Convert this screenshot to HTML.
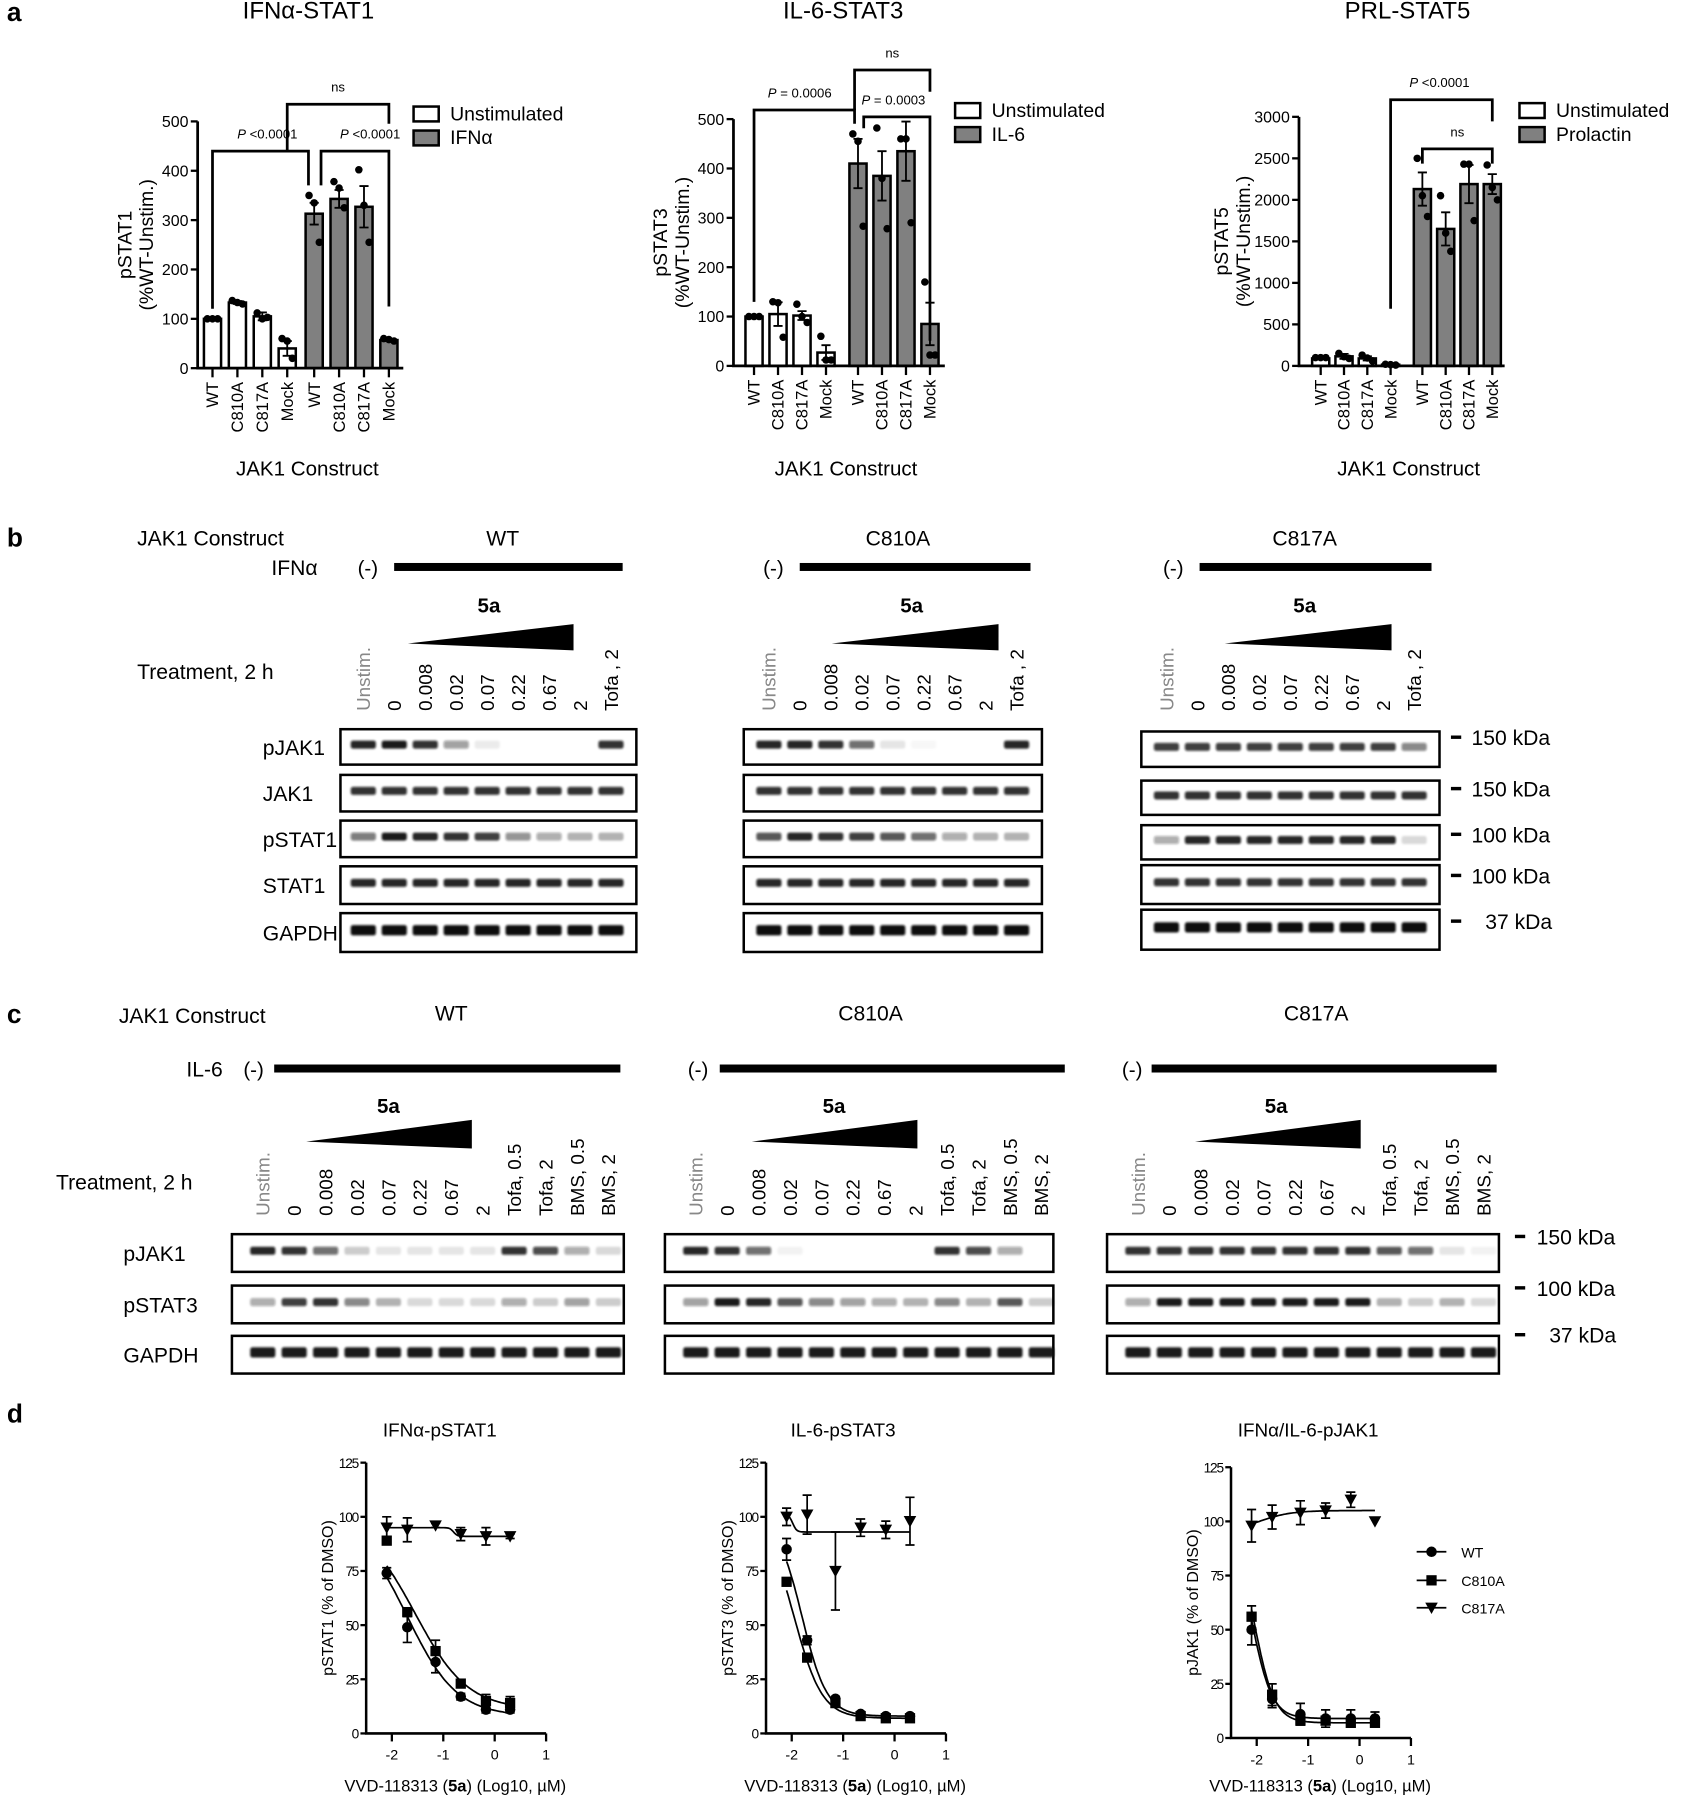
<!DOCTYPE html>
<html><head><meta charset="utf-8"><style>
html,body{margin:0;padding:0;background:#fff;}
svg{display:block;font-family:"Liberation Sans",Arial,sans-serif;}
</style></head><body>
<svg id="fig" width="1684" height="1800" viewBox="0 0 1474 1575" xmlns="http://www.w3.org/2000/svg">
<defs><filter id="bl" x="-20%" y="-50%" width="140%" height="200%"><feGaussianBlur stdDeviation="0.9"/></filter></defs>
</svg>
<script>
// ---------- Panel a data ----------
const barCats = ['WT','C810A','C817A','Mock','WT','C810A','C817A','Mock'];
const stat1Means = [100,133,105,40,313,343,327,57];
const stat1Errs = [1,3,8,15,22,18,42,2];
const stat1Reps = [[100,100,100],[137,133,130],[112,100,103],[60,55,20],[350,335,255],[378,365,325],[402,330,255],[60,58,55]];
const stat1Ticks = [0,100,200,300,400,500];
const stat3Means = [100,105,102,27,410,385,435,85];
const stat3Errs = [1,24,9,15,50,50,60,43];
const stat3Reps = [[100,100,100],[130,128,58],[125,100,88],[60,12,12],[470,455,283],[482,380,278],[460,460,290],[170,22,22]];
const stat3Ticks = [0,100,200,300,400,500];
const stat5Means = [90,115,90,15,2130,1650,2190,2190];
const stat5Errs = [5,30,25,5,200,200,230,120];
const stat5Reps = [[100,100,100],[150,110,90],[130,95,60],[20,15,10],[2500,2050,1800],[2050,1600,1380],[2430,2430,1750],[2420,2150,2000]];
const stat5Ticks = [0,500,1000,1500,2000,2500,3000];

// ---------- Panel d data ----------
const doseLog = [-2.1,-1.7,-1.15,-0.66,-0.17,0.3];
const doseTicks = [-2,-1,0,1];
const respTicks = [0,25,50,75,100,125];
const d1WT = [74,49,33,17,11,11];
const d1WTerr = [2.5,7,5,1.5,1.5,1.5];
const d1C810 = [89,56,38,23,15,14];
const d1C810err = [1.5,2,5,1.5,3,3];
const d1C817 = [95,94,96,92,91,91];
const d1C817err = [5,5.5,1,3,4,1];
const d2WT = [85,43,16,9,8,8];
const d2WTerr = [5,2,1,1,1,1];
const d2C810 = [70,35,14,8,7,7];
const d2C810err = [1,1,1,1,1,1];
const d2C817 = [100,101,75,95,94,98];
const d2C817err = [4,9,18,4,4,11];
const d3WT = [50,18,11,9,9,9];
const d3WTerr = [7,4,5,4,4,3];
const d3C810 = [56,20,8,8,7,7];
const d3C810err = [5,5,1,1,1,1];
const d3C817 = [98,102,104,105,110,100];
const d3C817err = [7.5,5.5,5.5,3.5,3.5,0];
// fitted curve params [top, bottom, logIC50, hill]
const fit1 = [[100,8,-1.7,0.9],[100,11,-1.55,0.85],[95,91,-0.8,12]];
const fit2 = [[100,8,-1.8,1.8],[100,7,-1.95,1.6],[101,93,-1.98,12]];
const fit3 = [[100,9,-2.1,2.2],[100,7,-2.05,2.2],[95,105,-1.95,1.4]];

// ---------- Blot intensities ----------
const bWT = {pJAK1:[.9,.95,.85,.4,.08,0,0,0,.85], JAK1:[.85,.85,.85,.85,.85,.85,.85,.85,.85], pSTAT1:[.55,.95,.9,.85,.8,.45,.35,.3,.3], STAT1:[.9,.9,.9,.9,.9,.9,.9,.9,.9], GAPDH:[1,1,1,1,1,1,1,1,1]};
const bC810 = {pJAK1:[.9,.9,.85,.6,.1,.03,0,0,.9], JAK1:[.85,.85,.85,.85,.85,.85,.85,.85,.85], pSTAT1:[.7,.9,.85,.8,.7,.6,.35,.3,.3], STAT1:[.9,.9,.9,.9,.9,.9,.9,.9,.9], GAPDH:[1,1,1,1,1,1,1,1,1]};
const bC817 = {pJAK1:[.8,.8,.8,.8,.8,.8,.8,.8,.5], JAK1:[.85,.85,.85,.85,.85,.85,.85,.85,.85], pSTAT1:[.35,.9,.9,.9,.9,.9,.9,.9,.15], STAT1:[.85,.85,.85,.85,.85,.85,.85,.85,.85], GAPDH:[1,1,1,1,1,1,1,1,1]};
const cWT = {pJAK1:[.9,.85,.6,.2,.1,.1,.1,.1,.85,.75,.35,.15], pSTAT3:[.35,.8,.85,.5,.3,.15,.15,.15,.35,.2,.4,.2], GAPDH:[.95,.95,.95,.95,.95,.95,.95,.95,.95,.95,.95,.95]};
const cC810 = {pJAK1:[.9,.85,.6,.05,0,0,0,0,.85,.75,.35,0], pSTAT3:[.4,.95,.9,.7,.5,.4,.35,.3,.5,.3,.7,.2], GAPDH:[.95,.95,.95,.95,.95,.95,.95,.95,.95,.95,.95,.95]};
const cC817 = {pJAK1:[.85,.85,.85,.85,.85,.85,.85,.85,.7,.6,.1,.05], pSTAT3:[.35,.95,.95,.95,.95,.95,.95,.95,.3,.2,.3,.15], GAPDH:[.95,.95,.95,.95,.95,.95,.95,.95,.95,.95,.95,.95]};
const bLanes = ['Unstim.','0','0.008','0.02','0.07','0.22','0.67','2','Tofa , 2'];
const cLanes = ['Unstim.','0','0.008','0.02','0.07','0.22','0.67','2','Tofa, 0.5','Tofa, 2','BMS, 0.5','BMS, 2'];

const svg = document.getElementById('fig');
const NS = 'http://www.w3.org/2000/svg';
function mk(tag, attrs, text){ const e=document.createElementNS(NS,tag); for(const k in attrs) e.setAttribute(k,attrs[k]); if(text!==undefined) e.textContent=text; svg.appendChild(e); return e; }
let el;

// panel letters
[['a',18],['b',478],['c',895],['d',1245]].forEach(p=>{
  el = mk('text',{x:6,y:p[1],'font-size':23,'font-weight':'bold'},p[0]);
  
  
});

// ---------- bar charts ----------
function barChart(id,g,title,means,errs,reps,ticks,ylab,legend2){
  const yv = v => g.y0 - (v/g.max)*(g.y0-g.yTop);
  const cx = i => g.x0 + i*g.step + (i>=4?g.gap:0);
  el = mk('text',{x:g.tx,y:16,'font-size':21,'text-anchor':'middle'},title);
  
  
  means.forEach((m,i)=>{
    el = mk('rect',{x:cx(i)-7.5,y:yv(m),width:15,height:g.y0-yv(m),fill:i<4?'#fff':'#808080',stroke:'#000','stroke-width':2.2});
    
    
    el = mk('path',{d:`M${cx(i)},${yv(m-errs[i])}V${yv(m+errs[i])}M${cx(i)-4},${yv(m+errs[i])}h8M${cx(i)-4},${yv(m-errs[i])}h8`,stroke:'#000','stroke-width':1.6,fill:'none'});
    
    
    reps[i].forEach((r,j)=>{
      el = mk('circle',{cx:cx(i)+(j-1)*4.5,cy:yv(r),r:3.3,fill:'#000'});
      
      
    });
  });
  el = mk('path',{d:`M${g.ax},${g.yTop}V${g.y0}H${g.xe}`,stroke:'#000','stroke-width':2.4,fill:'none'});
  
  
  ticks.forEach(t=>{
    el = mk('path',{d:`M${g.ax-6},${yv(t)}H${g.ax}`,stroke:'#000','stroke-width':2});
    
    
    el = mk('text',{x:g.ax-8,y:yv(t)+5,'font-size':14,'text-anchor':'end'},String(t));
    
    
  });
  barCats.forEach((c,i)=>{
    el = mk('path',{d:`M${cx(i)},${g.y0}v8`,stroke:'#000','stroke-width':2});
    
    
    el = mk('text',{x:0,y:0,'font-size':14.5,'text-anchor':'end',transform:`translate(${cx(i)+5},${g.y0+12}) rotate(-90)`},c);
    
    
  });
  el = mk('text',{x:(g.ax+g.xe)/2+6,y:416,'font-size':18,'text-anchor':'middle'},'JAK1 Construct');
  
  
  const ym=(g.yTop+g.y0)/2;
  el = mk('text',{x:0,y:0,'font-size':17,'text-anchor':'middle',transform:`translate(${g.ax-g.yl1},${ym}) rotate(-90)`},ylab);
  
  
  el = mk('text',{x:0,y:0,'font-size':17,'text-anchor':'middle',transform:`translate(${g.ax-g.yl1+19},${ym}) rotate(-90)`},'(%WT-Unstim.)');
  
  
  el = mk('rect',{x:g.lx,y:g.ly-6,width:22,height:13,fill:'#fff',stroke:'#000','stroke-width':2.2});
  
  
  el = mk('text',{x:g.lx+32,y:g.ly+6,'font-size':17},'Unstimulated');
  
  
  el = mk('rect',{x:g.lx,y:g.ly+15,width:22,height:13,fill:'#808080',stroke:'#000','stroke-width':2.2});
  
  
  el = mk('text',{x:g.lx+32,y:g.ly+27,'font-size':17},legend2);
  
  
  return {yv,cx};
}
function bracket(id,x1,y1,x2,y2,top,label,lx){
  el = mk('path',{d:`M${x1},${y1}V${top}H${x2}V${y2}`,stroke:'#000','stroke-width':2.4,fill:'none'});
  
  
  const t = mk('text',{x:lx!==undefined?lx:(x1+x2)/2,y:top-11,'font-size':11.5,'text-anchor':'middle'});
  
  
  if(label==='ns'){ t.textContent='ns'; }
  else { const a=document.createElementNS(NS,'tspan'); a.setAttribute('font-style','italic'); a.textContent='P'; t.appendChild(a); t.appendChild(document.createTextNode(label)); }
}
let A = barChart('stat1',{ax:173,xe:353,x0:186,step:21.8,gap:1.8,y0:322,yTop:106,max:500,tx:270,lx:362,ly:99,yl1:58},'IFNα-STAT1',stat1Means,stat1Errs,stat1Reps,stat1Ticks,'pSTAT1','IFNα');
bracket('stat1',A.cx(0),270,A.cx(4)-5,162,132,' <0.0001',234);
bracket('stat1',A.cx(4)+6,162,A.cx(7),268,132,' <0.0001',324);
bracket('stat1',A.cx(3),132,A.cx(7),108,91,'ns');
let B = barChart('stat3',{ax:642,xe:827,x0:660,step:21,gap:7,y0:320,yTop:104,max:500,tx:738,lx:836,ly:96,yl1:58},'IL-6-STAT3',stat3Means,stat3Errs,stat3Reps,stat3Ticks,'pSTAT3','IL-6');
bracket('stat3',B.cx(0),264,B.cx(4)-3,108,96,' = 0.0006',700);
bracket('stat3',B.cx(4)+5,112,B.cx(7),298,102,' = 0.0003',782);
bracket('stat3',B.cx(4)-3,96,B.cx(7),80,61,'ns');
let C = barChart('stat5',{ax:1137,xe:1317,x0:1156,step:20.4,gap:7.4,y0:320,yTop:102,max:3000,tx:1232,lx:1330,ly:96,yl1:62},'PRL-STAT5',stat5Means,stat5Errs,stat5Reps,stat5Ticks,'pSTAT5','Prolactin');
bracket('stat5',C.cx(3),270,C.cx(7),106,87,' <0.0001',1260);
bracket('stat5',C.cx(4),143,C.cx(7),143,130,'ns');

// ---------- blots ----------
function txt(name,x,y,s,size,attrs){ el = mk('text',Object.assign({x:x,y:y,'font-size':size},attrs||{}),s); return el; }
function blotPanel(id,data,rows,lanes,laneX0,laneStep,boxX1,boxX2,rowY){
  rows.forEach((r,ri)=>{
    const y1=rowY[ri][0], y2=rowY[ri][1];
    el = mk('rect',{x:boxX1,y:y1,width:boxX2-boxX1,height:y2-y1,fill:'#fff',stroke:'#000','stroke-width':2.2});
    
    
    data[r].forEach((v,li)=>{
      if(v<=0) return;
      const h = (r==='GAPDH')?9:7;
      el = mk('rect',{x:laneX0+li*laneStep-11,y:(y1+y2)/2-h/2-2,width:22,height:h,rx:2,fill:'#111','fill-opacity':v,filter:'url(#bl)'});
      
      
    });
  });
}
function lanesText(id,lanes,laneX0,laneStep,yb){
  lanes.forEach((l,i)=>{
    el = mk('text',{x:0,y:0,'font-size':16.5,'text-anchor':'start',fill:i===0?'#888':'#000',transform:`translate(${laneX0+i*laneStep+6},${yb}) rotate(-90)`},l);
    
    
  });
}
function wedge(id,x1,x2,yTop,yBot,labX,labY){
  el = mk('polygon',{points:`${x1},${yBot-6} ${x2},${yTop} ${x2},${yBot}`,fill:'#000'});
  
  
  el = mk('text',{x:labX,y:labY,'font-size':18,'font-weight':'bold','text-anchor':'middle'},'5a');
  
  
}
function stimBar(id,x1,x2,y,mx){
  el = mk('rect',{x:x1,y:y-3.5,width:x2-x1,height:7,fill:'#000'});
  
  
  el = mk('text',{x:mx,y:y+7,'font-size':18},'(-)');
  
  
}
el = txt('b',120,477,'JAK1 Construct',18.5);  
el = txt('b',278,503,'IFNα',18.5,{'text-anchor':'end'});  
el = txt('b',120,594,'Treatment, 2 h',18.5);  
const bRows=['pJAK1','JAK1','pSTAT1','STAT1','GAPDH'];
const bRowYWT=[[638,669],[678,710],[718,750],[758,791],[799,833]];
const bRowY817=[[640,671],[683,713],[722,752],[757,791],[796,831]];
bRows.forEach((r,i)=>{ el = txt('b',230,(bRowYWT[i][0]+bRowYWT[i][1])/2+7,r,18.5);   });
[['WT',440,345,545,313,357,502,428,318,298,557,bWT,bRowYWT],['C810A',786,700,902,668,728,874,798,673,651,912,bC810,bRowYWT],['C817A',1142,1050,1253,1018,1072,1218,1142,1021,999,1260,bC817,bRowY817]].forEach(p=>{
  const id='b-'+p[0];
  el = txt(id,p[1],477,p[0],18.5,{'text-anchor':'middle'});  
  stimBar(id,p[2],p[3],496,p[4]);
  wedge(id,p[5],p[6],546,569,p[7],536);
  lanesText(id,bLanes,p[8],27.1,622);
  blotPanel(id,p[11],bRows,bLanes,p[8],27.1,p[9],p[10],p[12]);
});
[['150 kDa',645],['150 kDa',690],['100 kDa',730],['100 kDa',766],['37 kDa',806]].forEach(k=>{
  el = mk('path',{d:`M1270,${k[1]}h9`,stroke:'#000','stroke-width':3});  
  el = txt('b',k[0].length<7?1300:1288,k[1]+7,k[0],18.5);  
});

el = txt('c',104,895,'JAK1 Construct',18.5);  
el = txt('c',195,942,'IL-6',18.5,{'text-anchor':'end'});  
el = txt('c',49,1041,'Treatment, 2 h',18.5);  
const cRows=['pJAK1','pSTAT3','GAPDH'];
const cRowY=[[1080,1113],[1125,1158],[1169,1202]];
cRows.forEach((r,i)=>{ el = txt('c',108,(cRowY[i][0]+cRowY[i][1])/2+7,r,18.5);   });
[['WT',395,240,543,213,268,413,340,230,203,546,cWT],['C810A',762,630,932,602,658,803,730,609,582,922,cC810],['C817A',1152,1008,1310,982,1046,1191,1117,996,969,1312,cC817]].forEach(p=>{
  const id='c-'+p[0];
  el = txt(id,p[1],893,p[0],18.5,{'text-anchor':'middle'});  
  stimBar(id,p[2],p[3],935,p[4]);
  wedge(id,p[5],p[6],980,1005,p[7],974);
  lanesText(id,cLanes,p[8],27.5,1064);
  blotPanel(id,p[11],cRows,cLanes,p[8],27.5,p[9],p[10],cRowY);
});
[['150 kDa',1082],['100 kDa',1127],['37 kDa',1168]].forEach(k=>{
  el = mk('path',{d:`M1326,${k[1]}h9`,stroke:'#000','stroke-width':3});  
  el = txt('c',k[0].length<7?1356:1345,k[1]+7,k[0],18.5);  
});

// ---------- panel d ----------
function marker(id,kind,x,y){
  if(kind===0) el = mk('circle',{cx:x,cy:y,r:4.6,fill:'#000'});
  else if(kind===1) el = mk('rect',{x:x-4.5,y:y-4.5,width:9,height:9,fill:'#000'});
  else el = mk('polygon',{points:`${x-5.5},${y-4.5} ${x+5.5},${y-4.5} ${x},${y+5.5}`,fill:'#000'});
  
  
}
function doseChart(id,g,title,ylab,series,errs,fits){
  const xp = v => g.x1 - (1-v)*g.ppu;
  const yp = v => g.y0 - v*(g.y0-g.yTop)/125;
  const ax = xp(-2.5);
  el = mk('text',{x:g.tx,y:1257,'font-size':16.5,'text-anchor':'middle'},title);
  
  
  el = mk('path',{d:`M${ax},${g.yTop}V${g.y0}H${xp(1)}`,stroke:'#000','stroke-width':2.2,fill:'none'});
  
  
  respTicks.forEach(t=>{
    el = mk('path',{d:`M${ax-5},${yp(t)}H${ax}`,stroke:'#000','stroke-width':2});  
    el = mk('text',{x:ax-6,y:yp(t)+4.5,'font-size':12,'text-anchor':'end','textLength':t>=100?18:(t>=10?12:6)},String(t));  
  });
  doseTicks.forEach(t=>{
    el = mk('path',{d:`M${xp(t)},${g.y0}v7`,stroke:'#000','stroke-width':2});  
    el = mk('text',{x:xp(t),y:g.y0+23,'font-size':12.5,'text-anchor':'middle'},String(t));  
  });
  el = mk('text',{x:0,y:0,'font-size':14,'text-anchor':'middle',transform:`translate(${ax-29},${(g.y0+g.yTop)/2}) rotate(-90)`},ylab);
   
  const xt = mk('text',{x:ax+78,y:1568,'font-size':14.5,'text-anchor':'middle'});
   
  xt.appendChild(document.createTextNode('VVD-118313 ('));
  const b=document.createElementNS(NS,'tspan'); b.setAttribute('font-weight','bold'); b.textContent='5a'; xt.appendChild(b);
  xt.appendChild(document.createTextNode(') (Log10, µM)'));
  series.forEach((s,k)=>{
    const f=fits[k]; let d='';
    for(let i=0;i<=80;i++){ const x=doseLog[0]+(doseLog[5]-doseLog[0])*i/80; const y=f[1]+(f[0]-f[1])/(1+Math.pow(10,(x-f[2])*f[3])); d+=(i?'L':'M')+xp(x).toFixed(1)+','+yp(y).toFixed(1); }
    el = mk('path',{d:d,stroke:'#000','stroke-width':1.5,fill:'none'});
    
    
    s.forEach((v,i)=>{
      const e=errs[k][i], x=xp(doseLog[i]);
      if(e>0){ el = mk('path',{d:`M${x},${yp(v-e)}V${yp(v+e)}M${x-4},${yp(v+e)}h8M${x-4},${yp(v-e)}h8`,stroke:'#000','stroke-width':1.5,fill:'none'});   }
      marker(id+'-point-'+['wt','c810a','c817a'][k],k,x,yp(v));
    });
  });
}
doseChart('d-stat1',{x1:478,ppu:45,y0:1517,yTop:1280,tx:385},'IFNα-pSTAT1','pSTAT1 (% of DMSO)',[d1WT,d1C810,d1C817],[d1WTerr,d1C810err,d1C817err],fit1);
doseChart('d-stat3',{x1:828,ppu:45,y0:1517,yTop:1280,tx:738},'IL-6-pSTAT3','pSTAT3 (% of DMSO)',[d2WT,d2C810,d2C817],[d2WTerr,d2C810err,d2C817err],fit2);
doseChart('d-jak1',{x1:1235,ppu:45,y0:1521,yTop:1284,tx:1145},'IFNα/IL-6-pJAK1','pJAK1 (% of DMSO)',[d3WT,d3C810,d3C817],[d3WTerr,d3C810err,d3C817err],fit3);
[['WT',1358],['C810A',1383],['C817A',1407]].forEach((l,k)=>{
  el = mk('path',{d:`M1240,${l[1]}H1266`,stroke:'#000','stroke-width':1.5});  
  marker('d-legend-marker-'+l[0],k,1253,l[1]);
  el = mk('text',{x:1279,y:l[1]+5,'font-size':12.5},l[0]);  
});
</script>
</body></html>
